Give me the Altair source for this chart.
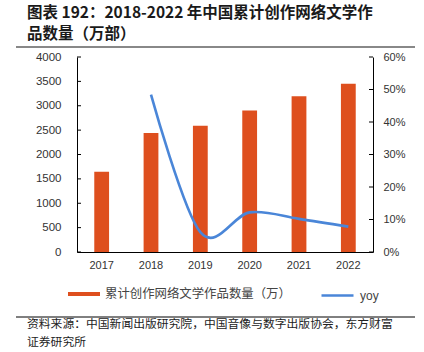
import altair as alt
import pandas as pd

years = ["2017", "2018", "2019", "2020", "2021", "2022"]
counts = [1645, 2442, 2590, 2905, 3195, 3450]
yoy_years = ["2018", "2019", "2020", "2021", "2022"]
yoy = [0.484, 0.061, 0.122, 0.102, 0.078]
left_ticks = [0, 500, 1000, 1500, 2000, 2500, 3000, 3500, 4000]
right_ticks = [0, 0.1, 0.2, 0.3, 0.4, 0.5, 0.6]
bar_name = "累计创作网络文学作品数量（万）"
line_name = "yoy"
title_lines = ["图表 192：2018-2022 年中国累计创作网络文学作", "品数量（万部）"]
source_lines = ["资料来源：中国新闻出版研究院，中国音像与数字出版协会，东方财富", "证券研究所"]

W, H = 296, 195
BAR = "#de4f1e"
LINE = "#4a86d8"

bars_df = pd.DataFrame({"year": years, "count": counts})
line_df = pd.DataFrame({"year": yoy_years, "yoy": yoy})

xscale = alt.Scale(domain=years, paddingInner=0.7, paddingOuter=0.35)
xaxis = alt.Axis(title=None, labelAngle=0, tickSize=0, labelPadding=7, labelFontSize=11,
                 labelFont="Liberation Sans", labelColor="#333", domainColor="#000")

lscale = alt.Scale(domain=[0, 4000], nice=False)
laxis = alt.Axis(title=None, values=left_ticks, format="d", tickSize=0, labelPadding=16,
                 labelFontSize=11.5, labelFont="Liberation Sans", labelColor="#333",
                 domainColor="#000", grid=False)
rscale = alt.Scale(domain=[0, 0.6], nice=False)
raxis = alt.Axis(title=None, orient="right", values=right_ticks, format=".0%",
                 tickSize=0, labelPadding=10, labelFontSize=11,
                 labelFont="Liberation Sans", labelColor="#333",
                 domainColor="#000", grid=False)

bars = alt.Chart(bars_df).mark_bar(color=BAR).encode(
    x=alt.X("year:N", scale=xscale, axis=xaxis),
    y=alt.Y("count:Q", scale=lscale, axis=laxis),
    fill=alt.Fill("name:N", scale=alt.Scale(domain=[bar_name], range=[BAR]),
                  legend=alt.Legend(title=None, orient="none", legendX=-9, legendY=221,
                                    symbolType="M-1,-0.125H1V0.125H-1Z", symbolSize=1024,
                                    symbolStrokeWidth=0, labelOffset=5, padding=0,
                                    labelFont="Noto Sans CJK SC", labelFontSize=12.4,
                                    labelColor="#444", labelLimit=400)),
).transform_calculate(name=f"'{bar_name}'")

lt_df = pd.DataFrame({"t": left_ticks})
lticks = alt.Chart(lt_df).mark_rule(color="#000", strokeWidth=1).encode(
    y=alt.Y("t:Q", scale=lscale, axis=laxis), x=alt.value(0), x2=alt.value(4))

left = alt.layer(bars, lticks)

line = alt.Chart(line_df).mark_line(strokeWidth=2.6, interpolate="cardinal").encode(
    x=alt.X("year:N", scale=xscale, axis=xaxis),
    y=alt.Y("yoy:Q", scale=rscale, axis=raxis),
    stroke=alt.Stroke("name:N", scale=alt.Scale(domain=[line_name], range=[LINE]),
                      legend=alt.Legend(title=None, orient="none", legendX=243, legendY=221,
                                        symbolType="stroke", symbolSize=1024,
                                        symbolStrokeWidth=2.6, labelOffset=5, padding=0,
                                        labelFont="Liberation Sans", labelFontSize=12,
                                        labelColor="#444")),
).transform_calculate(name=f"'{line_name}'")

rt_df = pd.DataFrame({"t": right_ticks})
rticks = alt.Chart(rt_df).mark_rule(color="#000", strokeWidth=1).encode(
    y=alt.Y("t:Q", scale=rscale, axis=raxis), x=alt.value(W - 4), x2=alt.value(W))

right = alt.layer(line, rticks)

decor = []
for i, t in enumerate(title_lines):
    decor.append(alt.Chart(pd.DataFrame({"t": [t]})).mark_text(
        align="left", baseline="middle", font="Noto Sans CJK SC", fontSize=15.5,
        fontWeight="bold", color="#1a1a1a").encode(
        text="t:N", x=alt.value(-50), y=alt.value(-44 + 20.5 * i)))
for i, t in enumerate(source_lines):
    decor.append(alt.Chart(pd.DataFrame({"t": [t]})).mark_text(
        align="left", baseline="middle", font="Noto Sans CJK SC", fontSize=11.8,
        color="#222").encode(
        text="t:N", x=alt.value(-50), y=alt.value(267 + 17.5 * i)))

rule_df = pd.DataFrame({"k": [0]})
decor.append(alt.Chart(rule_df).mark_rule(color="#888", strokeWidth=2).encode(
    x=alt.value(-61), x2=alt.value(338), y=alt.value(-10)))
decor.append(alt.Chart(rule_df).mark_rule(color="#000", strokeWidth=1).encode(
    x=alt.value(-61), x2=alt.value(338), y=alt.value(260)))

chart = alt.layer(left, right, *decor).resolve_scale(y="independent").properties(
    width=W, height=H,
    autosize=alt.AutoSizeParams(type="none"),
    padding={"left": 77, "top": 57, "right": 51, "bottom": 100},
    background="white",
).configure_view(stroke=None)

chart.save("out.html", embed_options={"renderer": "svg", "actions": False})
